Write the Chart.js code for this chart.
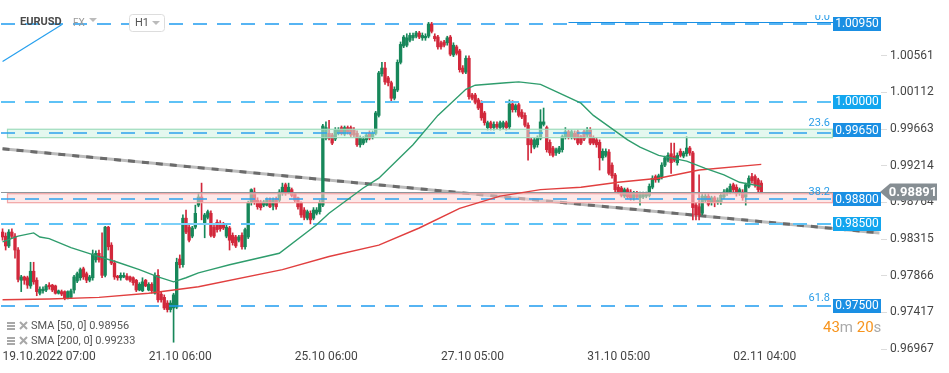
<!DOCTYPE html>
<html>
<head>
<meta charset="utf-8">
<script src="https://cdn.jsdelivr.net/npm/chart.js@4.4.0/dist/chart.umd.min.js"></script>
<style>
  html, body { margin: 0; padding: 0; background: #fff; }
  #wrap { width: 949px; height: 373px; }
</style>
</head>
<body>
<div id="wrap"><canvas id="chart" width="949" height="373"></canvas></div>
<script>
// EURUSD H1 candles (one entry per hour)
var opens = [0.9840,0.9835,0.9823,0.9840,0.9835,0.9818,0.9781,0.9785,0.9784,0.9774,
 0.9792,0.9781,0.9765,0.9768,0.9769,0.9775,0.9775,0.9774,0.9765,0.9767,
 0.9767,0.9759,0.9760,0.9769,0.9780,0.9784,0.9795,0.9789,0.9781,0.9784,
 0.9806,0.9814,0.9810,0.9787,0.9846,0.9824,0.9802,0.9786,0.9784,0.9785,
 0.9786,0.9785,0.9784,0.9781,0.9769,0.9768,0.9781,0.9769,0.9776,0.9765,
 0.9787,0.9764,0.9760,0.9753,0.9745,0.9747,0.9748,0.9807,0.9800,0.9857,
 0.9846,0.9835,0.9846,0.9873,0.9883,0.9850,0.9858,0.9863,0.9846,0.9852,
 0.9851,0.9850,0.9835,0.9845,0.9836,0.9834,0.9830,0.9836,0.9822,0.9834,
 0.9876,0.9889,0.9879,0.9877,0.9873,0.9873,0.9879,0.9873,0.9881,0.9879,
 0.9888,0.9898,0.9889,0.9892,0.9887,0.9882,0.9876,0.9867,0.9857,0.9863,
 0.9857,0.9863,0.9865,0.9873,0.9955,0.9961,0.9959,0.9954,0.9961,0.9968,
 0.9960,0.9968,0.9968,0.9965,0.9961,0.9947,0.9949,0.9953,0.9961,0.9957,
 0.9961,0.9983,1.0034,1.0041,1.0029,1.0023,1.0004,1.0014,1.0048,1.0068,
 1.0069,1.0075,1.0078,1.0080,1.0084,1.0078,1.0078,1.0080,1.0095,1.0080,
 1.0079,1.0072,1.0073,1.0072,1.0079,1.0057,1.0067,1.0062,1.0041,1.0036,
 1.0053,1.0008,1.0008,1.0002,0.9998,0.9986,0.9968,0.9974,0.9968,0.9972,
 0.9968,0.9969,0.9974,0.9969,0.9997,0.9990,0.9996,0.9987,0.9983,0.9971,
 0.9953,0.9944,0.9947,0.9955,0.9972,0.9968,0.9950,0.9943,0.9937,0.9938,
 0.9941,0.9957,0.9963,0.9957,0.9961,0.9963,0.9957,0.9963,0.9959,0.9965,
 0.9955,0.9953,0.9950,0.9931,0.9934,0.9938,0.9922,0.9910,0.9895,0.9894,
 0.9884,0.9892,0.9889,0.9882,0.9888,0.9882,0.9883,0.9884,0.9885,0.9895,
 0.9908,0.9904,0.9908,0.9922,0.9928,0.9936,0.9933,0.9925,0.9939,0.9933,
 0.9936,0.9943,0.9937,0.9873,0.9871,0.9863,0.9879,0.9884,0.9876,0.9882,
 0.9877,0.9877,0.9883,0.9888,0.9889,0.9898,0.9895,0.9888,0.9889,0.9883,
 0.9896,0.9908,0.9908,0.9904,0.9900];
var closes = [0.9834,0.9823,0.9840,0.9835,0.9818,0.9782,0.9785,0.9781,0.9775,0.9792,
 0.9779,0.9767,0.9770,0.9770,0.9774,0.9773,0.9769,0.9765,0.9768,0.9764,
 0.9759,0.9767,0.9768,0.9785,0.9789,0.9794,0.9785,0.9781,0.9785,0.9813,
 0.9814,0.9806,0.9787,0.9846,0.9822,0.9802,0.9785,0.9784,0.9787,0.9787,
 0.9782,0.9781,0.9778,0.9769,0.9776,0.9779,0.9774,0.9776,0.9768,0.9787,
 0.9757,0.9757,0.9747,0.9745,0.9753,0.9763,0.9803,0.9800,0.9857,0.9840,
 0.9830,0.9845,0.9863,0.9883,0.9877,0.9861,0.9865,0.9836,0.9835,0.9843,
 0.9844,0.9845,0.9846,0.9830,0.9827,0.9823,0.9834,0.9822,0.9843,0.9876,
 0.9892,0.9877,0.9871,0.9870,0.9877,0.9879,0.9871,0.9879,0.9871,0.9889,
 0.9895,0.9888,0.9895,0.9885,0.9879,0.9871,0.9861,0.9858,0.9865,0.9855,
 0.9867,0.9867,0.9876,0.9970,0.9968,0.9955,0.9949,0.9965,0.9965,0.9961,
 0.9968,0.9963,0.9959,0.9959,0.9947,0.9955,0.9954,0.9959,0.9955,0.9961,
 0.9986,1.0035,1.0041,1.0024,1.0023,1.0004,1.0015,1.0048,1.0070,1.0079,
 1.0078,1.0081,1.0081,1.0084,1.0079,1.0081,1.0080,1.0095,1.0086,1.0077,
 1.0067,1.0067,1.0069,1.0078,1.0058,1.0069,1.0059,1.0039,1.0036,1.0053,
 1.0006,1.0004,0.9999,0.9992,0.9980,0.9974,0.9974,0.9968,0.9972,0.9969,
 0.9974,0.9974,0.9968,0.9997,0.9990,0.9995,0.9983,0.9981,0.9971,0.9947,
 0.9947,0.9953,0.9955,0.9975,0.9975,0.9941,0.9937,0.9934,0.9941,0.9943,
 0.9957,0.9963,0.9957,0.9963,0.9955,0.9949,0.9949,0.9954,0.9965,0.9949,
 0.9949,0.9947,0.9931,0.9939,0.9939,0.9912,0.9909,0.9892,0.9889,0.9885,
 0.9892,0.9883,0.9882,0.9888,0.9883,0.9887,0.9887,0.9887,0.9896,0.9906,
 0.9904,0.9909,0.9922,0.9931,0.9934,0.9925,0.9928,0.9934,0.9934,0.9937,
 0.9943,0.9937,0.9870,0.9861,0.9861,0.9884,0.9884,0.9874,0.9882,0.9876,
 0.9879,0.9885,0.9889,0.9892,0.9896,0.9892,0.9887,0.9892,0.9882,0.9898,
 0.9906,0.9903,0.9898,0.9892,0.9889];
var highs = [0.9844,0.9839,0.9843,0.9844,0.9838,0.9821,0.9787,0.9786,0.9786,0.9803,
 0.9803,0.9784,0.9773,0.9773,0.9776,0.9778,0.9776,0.9775,0.9769,0.9769,
 0.9768,0.9768,0.9770,0.9787,0.9791,0.9796,0.9797,0.9791,0.9787,0.9818,
 0.9817,0.9818,0.9839,0.9847,0.9847,0.9827,0.9805,0.9787,0.9790,0.9790,
 0.9789,0.9786,0.9785,0.9782,0.9778,0.9784,0.9782,0.9778,0.9778,0.9790,
 0.9794,0.9767,0.9763,0.9756,0.9756,0.9765,0.9808,0.9812,0.9861,0.9867,
 0.9849,0.9847,0.9873,0.9888,0.9900,0.9863,0.9867,0.9866,0.9849,0.9855,
 0.9854,0.9852,0.9849,0.9847,0.9839,0.9836,0.9836,0.9839,0.9845,0.9878,
 0.9893,0.9894,0.9882,0.9879,0.9879,0.9882,0.9882,0.9882,0.9883,0.9892,
 0.9900,0.9900,0.9900,0.9894,0.9888,0.9883,0.9877,0.9870,0.9867,0.9866,
 0.9870,0.9870,0.9879,0.9972,0.9975,0.9977,0.9961,0.9968,0.9968,0.9970,
 0.9970,0.9970,0.9970,0.9968,0.9964,0.9958,0.9957,0.9961,0.9964,0.9964,
 0.9988,1.0037,1.0048,1.0048,1.0031,1.0025,1.0018,1.0051,1.0073,1.0081,
 1.0083,1.0084,1.0084,1.0086,1.0086,1.0084,1.0083,1.0097,1.0097,1.0083,
 1.0081,1.0074,1.0075,1.0080,1.0081,1.0072,1.0069,1.0064,1.0044,1.0056,
 1.0056,1.0010,1.0010,1.0004,1.0001,0.9988,0.9976,0.9976,0.9975,0.9975,
 0.9976,0.9976,0.9976,1.0002,1.0001,0.9997,0.9998,0.9990,0.9986,0.9974,
 0.9955,0.9955,0.9958,0.9990,0.9992,0.9970,0.9953,0.9945,0.9943,0.9945,
 0.9959,0.9968,0.9965,0.9965,0.9964,0.9965,0.9959,0.9965,0.9968,0.9968,
 0.9958,0.9955,0.9953,0.9942,0.9942,0.9941,0.9925,0.9912,0.9898,0.9896,
 0.9894,0.9894,0.9892,0.9890,0.9890,0.9889,0.9889,0.9889,0.9899,0.9909,
 0.9910,0.9911,0.9925,0.9933,0.9937,0.9949,0.9949,0.9937,0.9942,0.9939,
 0.9957,0.9945,0.9939,0.9876,0.9910,0.9887,0.9887,0.9887,0.9884,0.9884,
 0.9882,0.9888,0.9892,0.9894,0.9899,0.9900,0.9898,0.9894,0.9892,0.9900,
 0.9909,0.9912,0.9910,0.9906,0.9903];
var lows = [0.9830,0.9818,0.9821,0.9833,0.9808,0.9779,0.9767,0.9776,0.9771,0.9771,
 0.9776,0.9762,0.9763,0.9765,0.9767,0.9770,0.9767,0.9764,0.9764,0.9762,
 0.9757,0.9758,0.9759,0.9765,0.9778,0.9781,0.9782,0.9778,0.9779,0.9781,
 0.9803,0.9803,0.9784,0.9785,0.9818,0.9800,0.9782,0.9781,0.9781,0.9784,
 0.9781,0.9779,0.9775,0.9767,0.9768,0.9767,0.9773,0.9768,0.9765,0.9764,
 0.9754,0.9754,0.9745,0.9742,0.9742,0.9705,0.9746,0.9796,0.9797,0.9838,
 0.9828,0.9833,0.9844,0.9871,0.9855,0.9833,0.9856,0.9834,0.9833,0.9840,
 0.9841,0.9843,0.9833,0.9818,0.9824,0.9821,0.9828,0.9819,0.9819,0.9832,
 0.9873,0.9874,0.9868,0.9867,0.9871,0.9872,0.9870,0.9867,0.9868,0.9877,
 0.9885,0.9885,0.9887,0.9883,0.9877,0.9868,0.9858,0.9855,0.9855,0.9850,
 0.9855,0.9861,0.9862,0.9871,0.9953,0.9953,0.9947,0.9952,0.9959,0.9959,
 0.9958,0.9960,0.9957,0.9957,0.9945,0.9944,0.9947,0.9950,0.9953,0.9954,
 0.9959,0.9981,1.0031,1.0021,1.0019,0.9999,1.0002,1.0012,1.0046,1.0066,
 1.0067,1.0073,1.0075,1.0078,1.0077,1.0075,1.0075,1.0078,1.0084,1.0074,
 1.0064,1.0064,1.0067,1.0069,1.0056,1.0055,1.0057,1.0036,1.0034,1.0034,
 1.0003,1.0002,0.9997,0.9990,0.9977,0.9971,0.9965,0.9965,0.9965,0.9966,
 0.9965,0.9966,0.9965,0.9966,0.9987,0.9987,0.9981,0.9979,0.9969,0.9928,
 0.9937,0.9942,0.9944,0.9953,0.9970,0.9938,0.9934,0.9932,0.9934,0.9936,
 0.9938,0.9954,0.9954,0.9954,0.9953,0.9947,0.9947,0.9952,0.9957,0.9947,
 0.9947,0.9944,0.9916,0.9928,0.9932,0.9910,0.9906,0.9889,0.9887,0.9883,
 0.9882,0.9881,0.9879,0.9879,0.9881,0.9873,0.9881,0.9882,0.9883,0.9893,
 0.9901,0.9901,0.9905,0.9920,0.9926,0.9912,0.9926,0.9922,0.9932,0.9931,
 0.9933,0.9934,0.9855,0.9855,0.9855,0.9861,0.9877,0.9872,0.9873,0.9871,
 0.9874,0.9874,0.9881,0.9885,0.9887,0.9889,0.9884,0.9885,0.9879,0.9873,
 0.9894,0.9900,0.9895,0.9889,0.9888];

// moving averages, read at a few candles each
var sma50Idx = [0,5,10,12,15,22,26,31,37,44,50,55,59,63,67,73,89,101,105,116,121,132,140,149,152,162,166,173,177,186,190,201,205,211,220,226,232,237,244];
var sma50Val = [0.9828,0.9835,0.9839,0.9834,0.9832,0.9821,0.9816,0.9810,0.9803,0.9794,0.9785,0.9779,0.9784,0.9790,0.9794,0.9800,0.9814,0.9849,0.9863,0.9894,0.9906,0.9947,0.9983,1.0015,1.0020,1.0023,1.0024,1.0021,1.0014,0.9998,0.9983,0.9953,0.9944,0.9934,0.9927,0.9918,0.9910,0.9901,0.9896];
var sma200Idx = [0,15,31,47,55,63,90,105,121,134,147,160,173,186,198,211,224,244];
var sma200Val = [0.9757,0.9758,0.9760,0.9765,0.9769,0.9773,0.9794,0.9810,0.9824,0.9845,0.9869,0.9884,0.9892,0.9895,0.9901,0.9906,0.9916,0.9923];

// drawn lines
var trendIdx = [0, 282];
var trendVal = [0.9942, 0.9839];
var rayIdx = [0, 19];
var rayVal = [1.0049, 1.0094];

// horizontal levels and zones
var levelVals = [1.0095, 1.0000, 0.9965, 0.9880, 0.9850, 0.9750];      // label boxes
var levelLineVals = [1.0095, 1.0000, 0.9961, 0.9880, 0.9850, 0.9750];  // dashed lines
var levelText = ['1.00950', '1.00000', '0.99650', '0.98800', '0.98500', '0.97500'];
var fibText = ['0.0', '', '23.6', '38.2', '', '61.8'];
var zoneTop = [0.99660, 0.98870];
var zoneBottom = [0.99557, 0.98760];
var currentPrice = 0.98891;

var yTicks = [1.00561, 1.00112, 0.99663, 0.99214, 0.98764, 0.98315, 0.97866, 0.97417, 0.96967];
var tickIdx = [0, 47, 94, 141, 188, 235];
var tickText = ['19.10.2022 07:00', '21.10 06:00', '25.10 06:00', '27.10 05:00', '31.10 05:00', '02.11 04:00'];
var smaLegend = ['SMA [50, 0] 0.98956', 'SMA [200, 0] 0.99233'];

var SPAN = 283;   // hours on the axis, incl. the empty space on the right
var FONT = 'Roboto, "Noto Sans", sans-serif';
var UP = '#17875a', DOWN = '#d2283b';

var cats = [];
for (var i = 0; i < SPAN; i++) cats.push(i);

function sparse(idx, vals) {
    var a = [];
    for (var i = 0; i < SPAN; i++) a.push(null);
    idx.forEach(function(k, j) { a[k] = vals[j]; });
    return a;
}
function candleColor(c) {
    var i = c.dataIndex;
    return closes[i] >= opens[i] ? UP : DOWN;
}

var lineStyle = {
    lineWidth:  [1.5, 2, 1.5, 1.5, 2, 1.5],
    lineColor:  ['#1f9cf0', '#5ec2f6', '#2ea2ee', '#2ea2ee', '#5ec2f6', '#1f9cf0'],
    boxColor:   ['#1a8fe3', '#12a6ef', '#1a8fe3', '#1a8fe3', '#12a6ef', '#1a8fe3']
};

var overlay = {
    id: 'overlay',
    afterDatasetDraw: function(chart, args) {
        if (args.index !== 4) return;   // right after the candle bodies
        var ctx = chart.ctx, a = chart.chartArea, y = chart.scales.y, x = chart.scales.x;
        ctx.save();
        ctx.beginPath();
        ctx.rect(a.left - 1, a.top, a.right - a.left + 1, a.bottom - a.top);
        ctx.clip();

        var zFill = ['rgba(206,242,225,0.55)', 'rgba(252,214,214,0.55)'];
        var zLine = ['#9edcbd', '#f2a5a5'];
        for (var z = 0; z < zoneTop.length; z++) {
            var t = y.getPixelForValue(zoneTop[z]), b = y.getPixelForValue(zoneBottom[z]);
            ctx.fillStyle = zFill[z];
            ctx.fillRect(7, t, 826, b - t);
            ctx.strokeStyle = zLine[z];
            ctx.lineWidth = 1.2;
            ctx.strokeRect(7.5, t, 825, b - t);
        }

        // last price line
        var py = Math.round(y.getPixelForValue(currentPrice)) + 0.5;
        ctx.strokeStyle = '#8e969b';
        ctx.lineWidth = 1;
        ctx.beginPath(); ctx.moveTo(a.left, py); ctx.lineTo(a.right, py); ctx.stroke();

        // dashed levels
        levelLineVals.forEach(function(v, k) {
            var ly = Math.round(y.getPixelForValue(v));
            ctx.strokeStyle = lineStyle.lineColor[k];
            ctx.lineWidth = lineStyle.lineWidth[k];
            ctx.setLineDash([14, 10]);
            ctx.beginPath(); ctx.moveTo(a.left, ly); ctx.lineTo(833, ly); ctx.stroke();
        });
        ctx.setLineDash([]);

        // solid pieces: fibo 0.0 line and short level segment
        var y0 = Math.round(y.getPixelForValue(levelVals[0])) - 1.5;
        ctx.strokeStyle = '#1a8fe3'; ctx.lineWidth = 1;
        ctx.beginPath(); ctx.moveTo(x.getPixelForValue(182), y0); ctx.lineTo(833, y0); ctx.stroke();
        var y4 = Math.round(y.getPixelForValue(levelVals[4]));
        ctx.strokeStyle = '#7dd0f8'; ctx.lineWidth = 2;
        ctx.beginPath(); ctx.moveTo(x.getPixelForValue(51), y4); ctx.lineTo(x.getPixelForValue(71), y4); ctx.stroke();
        ctx.restore();
    },
    afterDraw: function(chart) {
        var ctx = chart.ctx, y = chart.scales.y;
        ctx.save();
        ctx.textBaseline = 'middle';

        // level boxes and fibo labels
        levelVals.forEach(function(v, k) {
            var ly = y.getPixelForValue(v);
            ctx.fillStyle = lineStyle.boxColor[k];
            ctx.fillRect(833, Math.round(ly) - 7, 48, 14);
            ctx.fillStyle = '#fff';
            ctx.font = '12px ' + FONT;
            ctx.textAlign = 'center';
            ctx.fillText(levelText[k], 857, ly + 0.5);
            if (fibText[k]) {
                ctx.save();
                ctx.beginPath(); ctx.rect(0, 15, 949, 358); ctx.clip();
                ctx.fillStyle = '#2a9de8';
                ctx.font = '11px ' + FONT;
                ctx.textAlign = 'right';
                ctx.fillText(fibText[k], 830, ly - 7);
                ctx.restore();
            }
        });

        // last price tag
        var py = y.getPixelForValue(currentPrice);
        ctx.fillStyle = '#868e93';
        ctx.beginPath();
        ctx.moveTo(880, py);
        ctx.lineTo(890, py - 8.5);
        ctx.lineTo(937, py - 8.5);
        ctx.lineTo(937, py + 8.5);
        ctx.lineTo(890, py + 8.5);
        ctx.closePath();
        ctx.fill();
        ctx.fillStyle = '#fff';
        ctx.font = 'bold 13px ' + FONT;
        ctx.textAlign = 'center';
        ctx.fillText(currentPrice.toFixed(5), 913, py + 0.5);

        // countdown
        ctx.textAlign = 'left';
        ctx.font = '15px ' + FONT;
        var parts = [['43', '#f7941d'], ['m ', '#aaaaaa'], ['20', '#f7941d'], ['s', '#aaaaaa']];
        var cx = 823;
        parts.forEach(function(p) {
            ctx.fillStyle = p[1];
            ctx.fillText(p[0], cx, 328);
            cx += ctx.measureText(p[0]).width;
        });

        // SMA legend
        ctx.font = '11px ' + FONT;
        smaLegend.forEach(function(txt, k) {
            var ly = 326 + k * 15;
            ctx.fillStyle = '#a8a8a8';
            ctx.fillRect(7, ly - 4, 8, 2);
            ctx.fillRect(7, ly - 1, 8, 2);
            ctx.fillRect(7, ly + 2, 8, 2);
            ctx.strokeStyle = '#a8a8a8';
            ctx.lineWidth = 2;
            ctx.beginPath();
            ctx.moveTo(20, ly - 4); ctx.lineTo(27, ly + 3);
            ctx.moveTo(27, ly - 4); ctx.lineTo(20, ly + 3);
            ctx.stroke();
            ctx.fillStyle = '#555';
            ctx.fillText(txt, 31, ly);
        });

        // symbol header
        ctx.fillStyle = '#4a4a4a';
        ctx.font = 'bold 11px ' + FONT;
        ctx.fillText('EURUSD', 20, 22.5);
        ctx.fillStyle = '#9a9a9a';
        ctx.font = '10px ' + FONT;
        ctx.fillText('FX', 73, 23);
        ctx.fillStyle = '#bbbbbb';
        ctx.beginPath(); ctx.moveTo(89, 18); ctx.lineTo(97, 18); ctx.lineTo(93, 22); ctx.closePath(); ctx.fill();
        ctx.fillStyle = '#fff';
        ctx.strokeStyle = '#dddddd';
        ctx.lineWidth = 1;
        ctx.beginPath();
        ctx.roundRect(129.5, 14.5, 35, 17, 3);
        ctx.fill(); ctx.stroke();
        ctx.fillStyle = '#555';
        ctx.font = '11px ' + FONT;
        ctx.fillText('H1', 135, 23.5);
        ctx.fillStyle = '#bbbbbb';
        ctx.beginPath(); ctx.moveTo(152, 21); ctx.lineTo(160, 21); ctx.lineTo(156, 25); ctx.closePath(); ctx.fill();
        ctx.restore();
    }
};

new Chart(document.getElementById('chart'), {
    type: 'bar',
    data: {
        labels: cats,
        datasets: [
            { type: 'line', data: sparse(trendIdx, trendVal), borderColor: '#bcbcbc', borderWidth: 3,
              pointRadius: 0, spanGaps: true, order: 7 },
            { type: 'line', data: sparse(trendIdx, trendVal), borderColor: '#6b6b6b', borderWidth: 3, borderDash: [7, 7],
              pointRadius: 0, spanGaps: true, order: 6 },
            { type: 'line', data: sparse(rayIdx, rayVal), borderColor: '#27a0ee', borderWidth: 1.2,
              pointRadius: 0, spanGaps: true, order: 5 },
            { type: 'bar', data: lows.map(function(v, i) { return [v, highs[i]]; }),
              backgroundColor: candleColor, barThickness: 1, grouped: false, order: 4 },
            { type: 'bar', data: opens.map(function(v, i) { return [v, closes[i]]; }),
              backgroundColor: candleColor, barThickness: 2.7, minBarLength: 1, grouped: false, order: 3 },
            { type: 'line', data: sparse(sma200Idx, sma200Val), borderColor: '#e13f3f', borderWidth: 1.4,
              pointRadius: 0, spanGaps: true, order: 1 },
            { type: 'line', data: sparse(sma50Idx, sma50Val), borderColor: '#2f9d6d', borderWidth: 1.4,
              pointRadius: 0, spanGaps: true, order: 0 }
        ]
    },
    options: {
        responsive: false,
        animation: false,
        events: [],
        layout: { padding: { left: 1, top: 0, right: 0, bottom: 0 } },
        plugins: { legend: { display: false }, tooltip: { enabled: false } },
        scales: {
            x: {
                type: 'category',
                offset: true,
                grid: { display: false, drawTicks: false },
                border: { display: false },
                ticks: {
                    autoSkip: false, maxRotation: 0, align: 'start', padding: 1,
                    color: '#444', font: { family: FONT, size: 12 },
                    callback: function(v) {
                        var k = tickIdx.indexOf(v);
                        return k < 0 ? '' : tickText[k];
                    }
                },
                afterBuildTicks: function(s) {
                    s.ticks = s.ticks.filter(function(t) { return tickIdx.indexOf(t.value) >= 0; });
                },
                afterFit: function(s) {
                    s.height = 24;
                    s.paddingLeft = 0; s.paddingRight = 0;
                }
            },
            y: {
                position: 'right',
                min: 0.96967,
                max: 1.01244,
                grid: { drawOnChartArea: false, drawTicks: true, tickLength: 6, color: '#dcdcdc' },
                border: { display: false },
                ticks: {
                    padding: 3, color: '#444', font: { family: FONT, size: 12 },
                    callback: function(v) { return v.toFixed(5); }
                },
                afterBuildTicks: function(s) {
                    s.ticks = yTicks.map(function(v) { return { value: v }; });
                },
                afterFit: function(s) {
                    s.width = 68;
                    s.paddingTop = 0; s.paddingBottom = 0;
                }
            }
        }
    },
    plugins: [overlay]
});
</script>
</body>
</html>
